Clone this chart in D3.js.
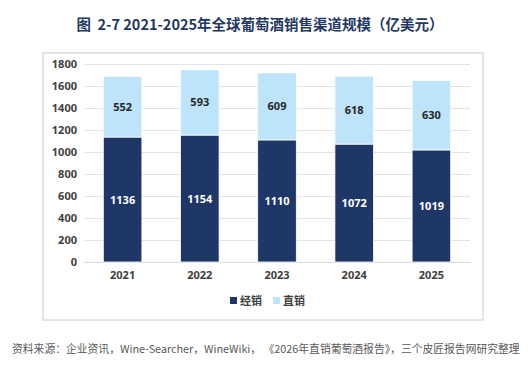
<!DOCTYPE html>
<html>
<head>
<meta charset="utf-8">
<script src="https://cdn.jsdelivr.net/npm/d3@7"></script>
<style>
  body { margin: 0; background: #fff; font-family: "Noto Sans CJK SC", "Noto Sans", sans-serif; }
</style>
</head>
<body>
<div id="chart"></div>
<script>
// data
const years = ["2021", "2022", "2023", "2024", "2025"];
const dealer = [1136, 1154, 1110, 1072, 1019];   // 经销
const direct = [552, 593, 609, 618, 630];        // 直销
const yTicks = [0, 200, 400, 600, 800, 1000, 1200, 1400, 1600, 1800];
const seriesNames = ["经销", "直销"];
const colors = ["#1f3767", "#bde4fb"];

const W = 530, H = 371;
const plot = { left: 84, right: 470, top: 64, bottom: 262 };

const svg = d3.select("#chart").append("svg")
  .attr("width", W)
  .attr("height", H);

// title
svg.append("text")
  .attr("x", 260)
  .attr("y", 30)
  .attr("text-anchor", "middle")
  .attr("font-size", "14.5px")
  .attr("font-weight", "bold")
  .attr("fill", "#1f3864")
  .style("white-space", "pre")
  .text("图  2-7 2021-2025年全球葡萄酒销售渠道规模（亿美元）");

// chart frame
svg.append("rect")
  .attr("x", 43).attr("y", 53)
  .attr("width", 440).attr("height", 267)
  .attr("fill", "#fff")
  .attr("stroke", "#dcdcdc")
  .attr("stroke-width", 1.5);

const x = d3.scaleBand()
  .domain(years)
  .range([plot.left, plot.right])
  .paddingInner(0.5)
  .paddingOuter(0.25);

const y = d3.scaleLinear()
  .domain([0, 1800])
  .range([plot.bottom, plot.top]);

// grid + y axis
const yAxis = svg.append("g")
  .attr("transform", "translate(" + plot.left + ",0)")
  .call(d3.axisLeft(y).tickValues(yTicks).tickFormat(d3.format("d"))
    .tickSize(-(plot.right - plot.left)).tickPadding(7));
yAxis.select(".domain").remove();
yAxis.selectAll("line").attr("stroke", "#e3e3e3");
yAxis.selectAll("text")
  .attr("font-size", "11px")
  .attr("font-weight", "bold")
  .attr("fill", "#404040")
  .attr("font-family", "Noto Sans, sans-serif");

// x axis
const xAxis = svg.append("g")
  .attr("transform", "translate(0," + plot.bottom + ")")
  .call(d3.axisBottom(x).tickSize(0).tickPadding(9));
xAxis.select(".domain").attr("stroke", "#d9d9d9");
xAxis.selectAll("text")
  .attr("font-size", "11px")
  .attr("font-weight", "bold")
  .attr("fill", "#404040")
  .attr("font-family", "Noto Sans, sans-serif");

// stacked bars
const rows = years.map((yr, i) => ({ year: yr, dealer: dealer[i], direct: direct[i] }));
const stack = d3.stack().keys(["dealer", "direct"])(rows);

const layers = svg.selectAll(".layer")
  .data(stack)
  .enter()
  .append("g")
  .attr("class", "layer")
  .attr("fill", (d, i) => colors[i]);

layers.selectAll("rect")
  .data(d => d)
  .enter()
  .append("rect")
  .attr("x", d => x(d.data.year))
  .attr("y", d => y(d[1]))
  .attr("width", x.bandwidth())
  .attr("height", d => y(d[0]) - y(d[1]))
  .attr("stroke", "#fff")
  .attr("stroke-width", 0.8);

// value labels
layers.each(function(s, i) {
  d3.select(this).selectAll("text")
    .data(s)
    .enter()
    .append("text")
    .attr("x", d => x(d.data.year) + x.bandwidth() / 2)
    .attr("y", d => (y(d[0]) + y(d[1])) / 2 + 4)
    .attr("text-anchor", "middle")
    .attr("font-size", "11px")
    .attr("font-weight", "bold")
    .attr("font-family", "Noto Sans, sans-serif")
    .attr("fill", i === 0 ? "#fff" : "#262626")
    .text(d => d[1] - d[0]);
});

// legend
const legend = svg.selectAll(".legend")
  .data(seriesNames)
  .enter()
  .append("g")
  .attr("class", "legend")
  .attr("transform", (d, i) => "translate(" + (230 + i * 43) + ",302)");

legend.append("rect")
  .attr("x", 0).attr("y", -5)
  .attr("width", 7).attr("height", 7)
  .attr("fill", (d, i) => colors[i]);

legend.append("text")
  .attr("x", 10)
  .attr("y", 3)
  .attr("font-size", "11px")
  .attr("font-weight", "bold")
  .attr("fill", "#404040")
  .text(d => d);

// source note
svg.append("text")
  .attr("x", 12)
  .attr("y", 353)
  .attr("font-size", "10.8px")
  .attr("fill", "#595959")
  .style("white-space", "pre")
  .text("资料来源：企业资讯，Wine-Searcher，WineWiki， 《2026年直销葡萄酒报告》，三个皮匠报告网研究整理");
</script>
</body>
</html>
